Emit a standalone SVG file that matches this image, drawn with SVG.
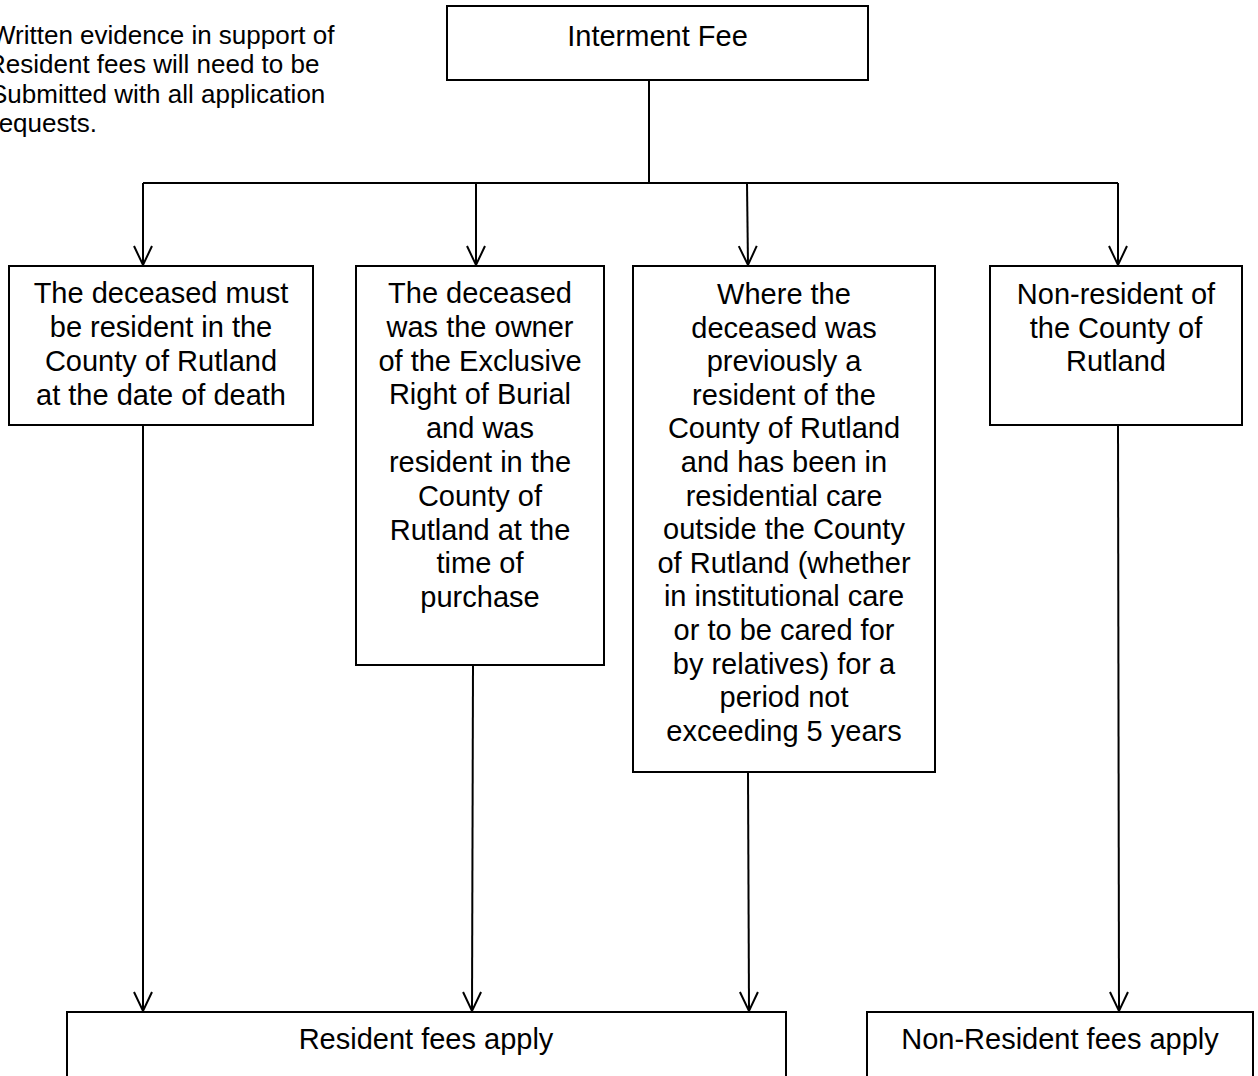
<svg xmlns="http://www.w3.org/2000/svg" width="1258" height="1076" viewBox="0 0 1258 1076">
<style>
.box{fill:#fff;stroke:#000;stroke-width:2}
.t{font-family:"Liberation Sans",Arial,sans-serif;font-size:29px;fill:#000;text-anchor:middle}
.note{font-family:"Liberation Sans",Arial,sans-serif;font-size:26px;fill:#000}
.c{fill:none;stroke:#000;stroke-width:2}
</style>
<defs>
<marker id="arr" markerUnits="userSpaceOnUse" markerWidth="24" markerHeight="24" viewBox="-12 -22 24 24" refX="0" refY="0" orient="auto-start-reverse" overflow="visible">
<polyline points="-19,-9 0,0 -19,9" fill="none" stroke="#000" stroke-width="2"/>
</marker>
</defs>
<rect width="1258" height="1076" fill="#fff"/>
<g id="note">
<text class="note" x="-9" y="44">Written evidence in support of</text>
<text class="note" x="-13" y="73">Resident fees will need to be</text>
<text class="note" x="-10" y="103">Submitted with all application</text>
<text class="note" x="-10" y="132">requests.</text>
</g>
<g id="connectors">
<line class="c" x1="649" y1="80" x2="649" y2="183"/>
<line class="c" x1="143" y1="183" x2="1118" y2="183"/>
<line class="c" x1="143" y1="183" x2="143" y2="265" marker-end="url(#arr)"/>
<line class="c" x1="476" y1="183" x2="476" y2="265" marker-end="url(#arr)"/>
<line class="c" x1="747" y1="183" x2="748" y2="265" marker-end="url(#arr)"/>
<line class="c" x1="1118" y1="183" x2="1118" y2="265" marker-end="url(#arr)"/>
<line class="c" x1="143" y1="425" x2="143" y2="1011" marker-end="url(#arr)"/>
<line class="c" x1="473" y1="665" x2="472" y2="1011" marker-end="url(#arr)"/>
<line class="c" x1="748" y1="772" x2="749" y2="1011" marker-end="url(#arr)"/>
<line class="c" x1="1118" y1="425" x2="1119" y2="1011" marker-end="url(#arr)"/>
</g>
<g id="interment">
<rect class="box" x="447" y="6" width="421" height="74"/>
<text class="t" x="657.5" y="46">Interment Fee</text>
</g>
<g id="resident-death">
<rect class="box" x="9" y="266" width="304" height="159"/>
<text class="t" x="161" y="303">The deceased must</text>
<text class="t" x="161" y="337">be resident in the</text>
<text class="t" x="161" y="371">County of Rutland</text>
<text class="t" x="161" y="405">at the date of death</text>
</g>
<g id="owner">
<rect class="box" x="356" y="266" width="248" height="399"/>
<text class="t" x="480" y="303">The deceased</text>
<text class="t" x="480" y="337">was the owner</text>
<text class="t" x="480" y="370.5">of the Exclusive</text>
<text class="t" x="480" y="404">Right of Burial</text>
<text class="t" x="480" y="438">and was</text>
<text class="t" x="480" y="472">resident in the</text>
<text class="t" x="480" y="506">County of</text>
<text class="t" x="480" y="539.5">Rutland at the</text>
<text class="t" x="480" y="573">time of</text>
<text class="t" x="480" y="607">purchase</text>
</g>
<g id="care">
<rect class="box" x="633" y="266" width="302" height="506"/>
<text class="t" x="784" y="304">Where the</text>
<text class="t" x="784" y="337.6">deceased was</text>
<text class="t" x="784" y="371.2">previously a</text>
<text class="t" x="784" y="404.8">resident of the</text>
<text class="t" x="784" y="438.4">County of Rutland</text>
<text class="t" x="784" y="472">and has been in</text>
<text class="t" x="784" y="505.6">residential care</text>
<text class="t" x="784" y="539.2">outside the County</text>
<text class="t" x="784" y="572.8">of Rutland (whether</text>
<text class="t" x="784" y="606.4">in institutional care</text>
<text class="t" x="784" y="640">or to be cared for</text>
<text class="t" x="784" y="673.6">by relatives) for a</text>
<text class="t" x="784" y="707.2">period not</text>
<text class="t" x="784" y="741">exceeding 5 years</text>
</g>
<g id="non-resident">
<rect class="box" x="990" y="266" width="252" height="159"/>
<text class="t" x="1116" y="304">Non-resident of</text>
<text class="t" x="1116" y="338">the County of</text>
<text class="t" x="1116" y="371">Rutland</text>
</g>
<g id="resident-fees">
<rect class="box" x="67" y="1012" width="719" height="90"/>
<text class="t" x="426" y="1049">Resident fees apply</text>
</g>
<g id="non-resident-fees">
<rect class="box" x="867" y="1012" width="386" height="90"/>
<text class="t" x="1060" y="1049">Non-Resident fees apply</text>
</g>
</svg>
